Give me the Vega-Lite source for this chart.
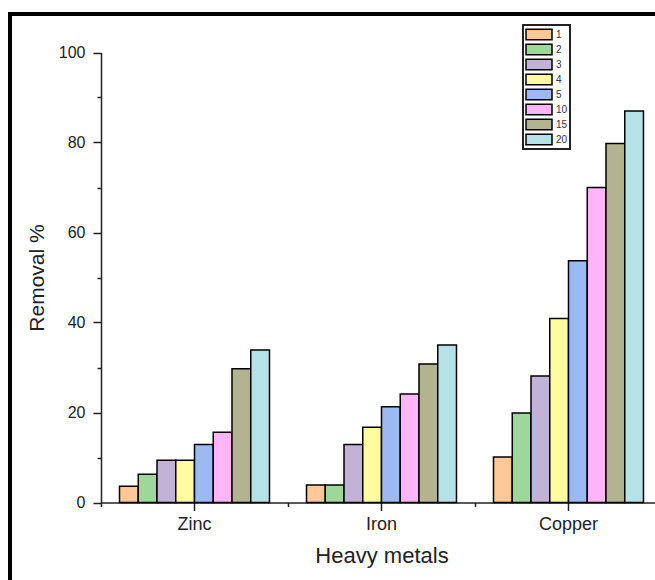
{
  "$schema": "https://vega.github.io/schema/vega-lite/v6.json",
  "autosize": "none",
  "padding": {"left": 10, "top": 14, "right": 0, "bottom": 0},
  "width": 650,
  "height": 572,
  "background": "white",
  "view": {"stroke": "black", "strokeWidth": 4, "fill": "white"},
  "config": {
    "font": "Liberation Sans",
    "axis": {"domainColor": "#222", "tickColor": "#222", "domainWidth": 1.5, "tickWidth": 1.5, "grid": false, "labelColor": "#222", "titleColor": "#222", "labelFont": "Liberation Sans", "titleFont": "Liberation Sans", "titleFontWeight": "normal"},
    "legend": {"strokeColor": "#222", "strokeWidth": 2, "fillColor": "white"}
  },
  "data": {
    "values": [
      {"metal": "Zinc", "time": 1, "removal": 3.6},
      {"metal": "Zinc", "time": 2, "removal": 6.3},
      {"metal": "Zinc", "time": 3, "removal": 9.4},
      {"metal": "Zinc", "time": 4, "removal": 9.4},
      {"metal": "Zinc", "time": 5, "removal": 12.9},
      {"metal": "Zinc", "time": 10, "removal": 15.6},
      {"metal": "Zinc", "time": 15, "removal": 29.7},
      {"metal": "Zinc", "time": 20, "removal": 33.9},
      {"metal": "Iron", "time": 1, "removal": 3.9},
      {"metal": "Iron", "time": 2, "removal": 3.9},
      {"metal": "Iron", "time": 3, "removal": 12.9},
      {"metal": "Iron", "time": 4, "removal": 16.7},
      {"metal": "Iron", "time": 5, "removal": 21.3},
      {"metal": "Iron", "time": 10, "removal": 24.1},
      {"metal": "Iron", "time": 15, "removal": 30.8},
      {"metal": "Iron", "time": 20, "removal": 35.0},
      {"metal": "Copper", "time": 1, "removal": 10.1},
      {"metal": "Copper", "time": 2, "removal": 19.9},
      {"metal": "Copper", "time": 3, "removal": 28.1},
      {"metal": "Copper", "time": 4, "removal": 40.9},
      {"metal": "Copper", "time": 5, "removal": 53.7},
      {"metal": "Copper", "time": 10, "removal": 70.0},
      {"metal": "Copper", "time": 15, "removal": 79.8},
      {"metal": "Copper", "time": 20, "removal": 87.0}
    ]
  },
  "layer": [
    {
      "mark": {"type": "bar", "stroke": "black", "strokeWidth": 1.5, "opacity": 1},
      "encoding": {
        "x": {
          "field": "metal", "type": "nominal", "sort": ["Zinc", "Iron", "Copper"],
          "scale": {"range": [91, 652], "paddingInner": 0, "paddingOuter": 0},
          "axis": {"orient": "bottom", "offset": -83.5, "title": "Heavy metals", "labelAngle": 0, "labelFontSize": 18, "labelPadding": 5, "tickSize": 8, "titleFontSize": 22, "titlePadding": 12}
        },
        "xOffset": {
          "field": "time", "type": "ordinal",
          "scale": {"paddingOuter": 0.987, "paddingInner": 0}
        },
        "y": {
          "field": "removal", "type": "quantitative",
          "scale": {"domain": [0, 100], "nice": false, "range": [488.5, 38.5]},
          "axis": {"orient": "left", "offset": -91, "title": "Removal %", "values": [0, 20, 40, 60, 80, 100], "labelFontSize": 16, "labelPadding": 8, "tickSize": 8, "titleFontSize": 21, "titlePadding": 11}
        },
        "color": {
          "field": "time", "type": "ordinal",
          "scale": {"range": ["#FFC896", "#9ED79A", "#C2B2D8", "#FFFB9E", "#9BBAF2", "#FFB5F8", "#B2B48F", "#B4E2E6"]},
          "legend": {
            "title": null, "orient": "none", "legendX": 513, "legendY": 11,
            "symbolType": "M-1,-0.41H1V0.41H-1Z", "symbolSize": 676,
            "symbolStrokeColor": "black", "symbolStrokeWidth": 1.5, "symbolOpacity": 1,
            "clipHeight": 15, "rowPadding": 0, "padding": 2,
            "labelFontSize": 10, "labelColor": "#334", "labelOffset": 3
          }
        }
      }
    },
    {
      "mark": {"type": "bar", "opacity": 0},
      "encoding": {
        "x": {
          "field": "metal", "type": "nominal", "sort": ["Zinc", "Iron", "Copper"],
          "axis": {"orient": "bottom", "offset": -83.5, "title": null, "labels": false, "domain": false, "tickBand": "extent", "tickSize": 4}
        },
        "xOffset": {"field": "time", "type": "ordinal"},
        "y": {
          "field": "removal", "type": "quantitative",
          "axis": {"orient": "left", "offset": -91, "title": null, "labels": false, "domain": false, "values": [10, 30, 50, 70, 90], "tickSize": 4}
        }
      }
    }
  ],
  "resolve": {"axis": {"x": "independent", "y": "independent"}}
}
